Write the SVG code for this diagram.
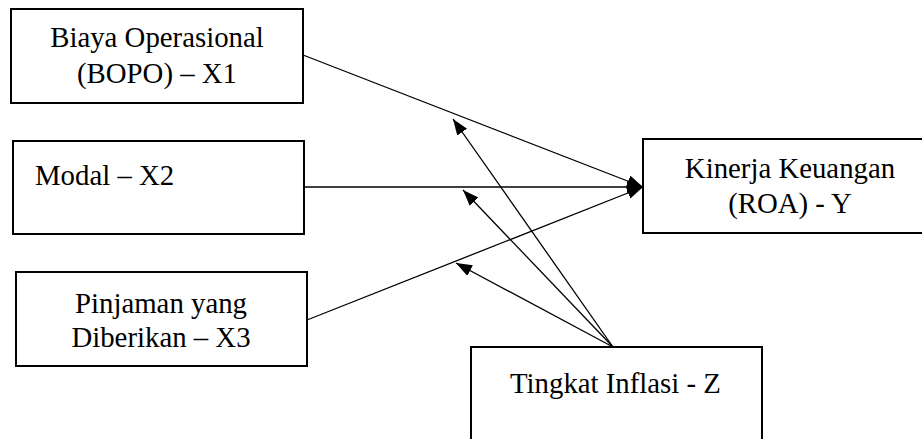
<svg xmlns="http://www.w3.org/2000/svg" width="922" height="439" viewBox="0 0 922 439">
<style>
.box{fill:#fff;stroke:#000;stroke-width:2}
.t{font-family:'Liberation Serif','Times New Roman','DejaVu Serif',serif;font-size:28.8px;fill:#000}
.c{text-anchor:middle}
.ln{stroke:#000;stroke-width:1.3;fill:none;marker-end:url(#ah)}
</style>
<defs>
<marker id="ah" markerUnits="userSpaceOnUse" markerWidth="17" markerHeight="13" refX="16" refY="6" orient="auto">
<path d="M0,0 L16,6 L0,12 Z" fill="#000"/>
</marker>
</defs>
<rect width="922" height="439" fill="#fff"/>
<g id="connectors">
<line class="ln" x1="303" y1="55" x2="643" y2="187"/>
<line class="ln" x1="304" y1="187" x2="643" y2="187"/>
<line class="ln" x1="307" y1="320" x2="643" y2="187"/>
<line class="ln" x1="613" y1="347" x2="453" y2="119"/>
<line class="ln" x1="613" y1="347" x2="463" y2="190"/>
<line class="ln" x1="613" y1="347" x2="456" y2="263"/>
</g>
<g id="x1">
<rect class="box" x="11" y="9" width="292" height="94"/>
<text class="t c" x="157" y="47" font-family="Liberation Serif, serif">Biaya Operasional</text>
<text class="t c" x="157" y="83" font-family="Liberation Serif, serif">(BOPO) – X1</text>
</g>
<g id="x2">
<rect class="box" x="13" y="141" width="291" height="93"/>
<text class="t" x="35" y="185" font-family="Liberation Serif, serif">Modal – X2</text>
</g>
<g id="x3">
<rect class="box" x="16" y="272" width="291" height="94"/>
<text class="t c" x="161" y="313" font-family="Liberation Serif, serif">Pinjaman yang</text>
<text class="t c" x="161" y="347" font-family="Liberation Serif, serif">Diberikan – X3</text>
</g>
<g id="y">
<rect class="box" x="643" y="139" width="295" height="94"/>
<text class="t c" x="790" y="178" font-family="Liberation Serif, serif">Kinerja Keuangan</text>
<text class="t c" x="790" y="213" font-family="Liberation Serif, serif">(ROA) - Y</text>
</g>
<g id="z">
<rect class="box" x="471" y="347" width="291" height="110"/>
<text class="t" x="510" y="393" font-family="Liberation Serif, serif">Tingkat Inflasi - Z</text>
</g>
</svg>
